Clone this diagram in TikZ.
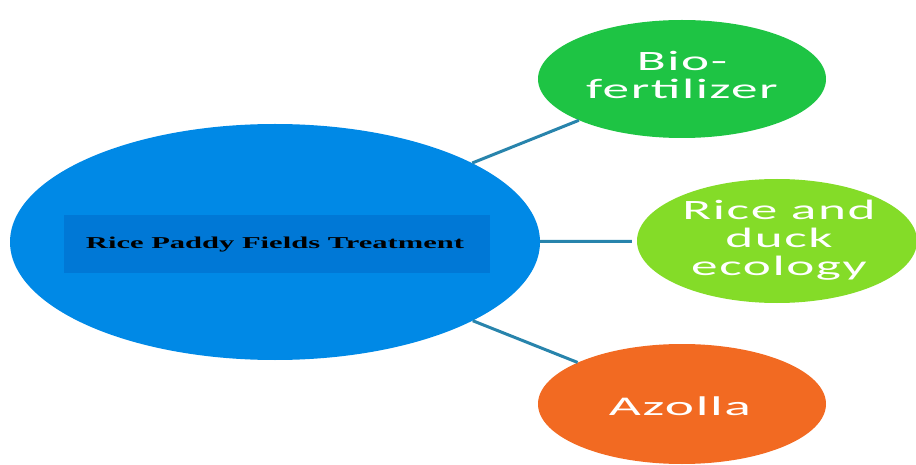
\documentclass[tikz,border=0pt]{standalone}
\usepackage{graphicx}
\usepackage{fontspec}
\usetikzlibrary{shapes.geometric}
\newfontfamily\satfont[LetterSpace=3]{Carlito}
\newfontfamily\titlefont{Liberation Serif}
\definecolor{cblue}{RGB}{0,137,230}
\definecolor{cdblue}{RGB}{0,120,214}
\definecolor{cgreen}{RGB}{30,196,68}
\definecolor{clime}{RGB}{132,220,40}
\definecolor{corange}{RGB}{242,106,34}
\definecolor{cline}{RGB}{40,132,172}
\newcommand\wide[2][1.9]{\scalebox{#1}[1]{#2}}
\tikzset{
  bubble/.style={ellipse, inner sep=0pt, draw=none},
  conn/.style={draw=cline, line width=3pt},
  sattext/.style={text=white, inner sep=0pt, align=center},
}
\begin{document}
\begin{tikzpicture}[x=1pt, y=-1pt]
\useasboundingbox (0,0) rectangle (916,465);
\node[bubble, fill=cblue, minimum width=530pt, minimum height=236pt] (center) at (275,242) {};
\node[bubble, fill=cgreen, minimum width=288pt, minimum height=118pt] (bio) at (682,79) {};
\node[bubble, fill=clime, minimum width=280pt, minimum height=124pt] (duck) at (777,241) {};
\node[bubble, fill=corange, minimum width=288pt, minimum height=120pt] (azolla) at (682,404) {};
\node[fill=cdblue, minimum width=426pt, minimum height=58pt, inner sep=0pt] (title) at (277,244) {};
\node[inner sep=0pt] (titletext) at (275,245) {\wide[1.84]{\titlefont\bfseries\fontsize{16.6}{18}\selectfont Rice Paddy Fields Treatment}};
\node[sattext] (biotext) at (682,79) {\wide{\satfont\fontsize{28}{27}\selectfont\begin{tabular}{@{}c@{}}Bio-\\fertilizer\end{tabular}}};
\node[sattext] (ducktext) at (779,242) {\wide{\satfont\fontsize{28}{28}\selectfont\begin{tabular}{@{}c@{}}Rice and\\duck\\ecology\end{tabular}}};
\node[sattext] (azollatext) at (680,406) {\wide[2.05]{\satfont\fontsize{27}{28}\selectfont Azolla}};
\draw[conn] (center) -- (bio);
\draw[conn, shorten >=5pt] (center) -- (duck);
\draw[conn] (center) -- (azolla);
\end{tikzpicture}
\end{document}
